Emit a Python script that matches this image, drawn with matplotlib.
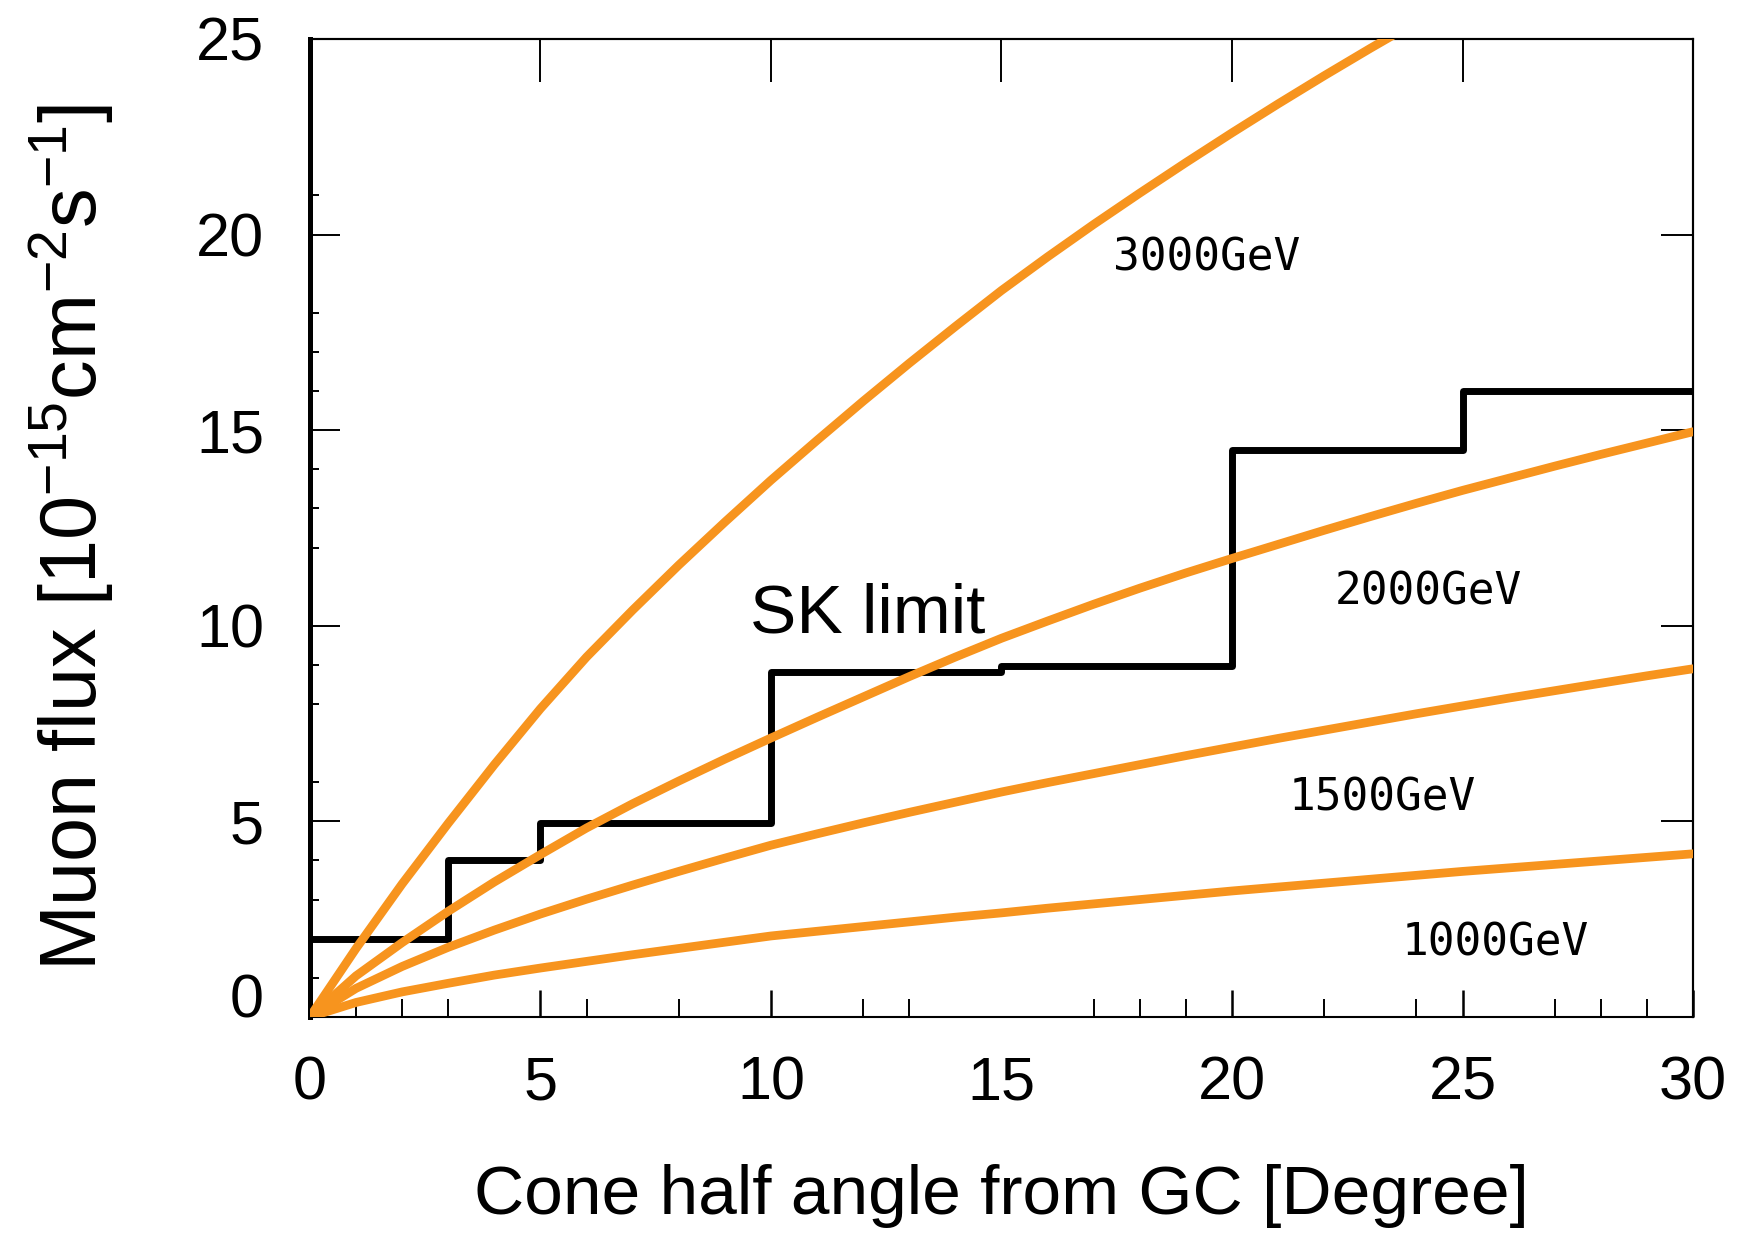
import numpy as np
import matplotlib
matplotlib.use("Agg")
import matplotlib.pyplot as plt
import matplotlib.ticker as ticker
import matplotlib.transforms as mtransforms

plt.rcParams['font.family'] = ['Liberation Sans', 'DejaVu Sans']
plt.rcParams['mathtext.fontset'] = 'custom'
plt.rcParams['mathtext.rm'] = 'Liberation Sans'
plt.rcParams['mathtext.it'] = 'Liberation Sans:italic'

# SK upper limit, step histogram
sk_edges = [0, 3, 5, 10, 15, 20, 25, 30]
sk_limit = [2.0, 4.0, 4.97, 8.82, 8.97, 14.5, 16.0]

# expected muon flux vs cone half angle
ang_3000 = [0, 1, 2, 3, 4, 5, 6, 7, 8, 9, 10, 11, 12, 13, 14, 15, 16, 17, 18, 19, 20, 21, 22, 23, 23.5]
flux_3000 = [0, 1.75, 3.4, 4.95, 6.45, 7.88, 9.2, 10.4, 11.55, 12.65, 13.72, 14.74, 15.74, 16.71,
             17.65, 18.57, 19.43, 20.26, 21.06, 21.84, 22.6, 23.34, 24.06, 24.76, 25.1]

angles = list(range(0, 31))
flux_2000 = [0, 1.05, 1.9, 2.7, 3.45, 4.15, 4.83, 5.45, 6.03, 6.59, 7.13, 7.66, 8.18, 8.7, 9.2, 9.68,
             10.12, 10.55, 10.96, 11.35, 11.72, 12.08, 12.44, 12.79, 13.13, 13.46, 13.77, 14.08,
             14.38, 14.67, 14.96]
flux_1500 = [0, 0.73, 1.29, 1.78, 2.22, 2.63, 3.01, 3.37, 3.72, 4.06, 4.39, 4.68, 4.96, 5.23, 5.49,
             5.75, 5.99, 6.22, 6.45, 6.68, 6.9, 7.12, 7.33, 7.54, 7.75, 7.95, 8.15, 8.34, 8.53,
             8.72, 8.9]
flux_1000 = [0, 0.37, 0.64, 0.86, 1.07, 1.25, 1.42, 1.59, 1.75, 1.91, 2.07, 2.19, 2.31, 2.43, 2.55,
             2.66, 2.78, 2.89, 3.0, 3.11, 3.22, 3.32, 3.42, 3.52, 3.62, 3.72, 3.81, 3.9, 3.99,
             4.08, 4.17]

# ticks that show up in the picture
x_major = [0, 5, 10, 15, 20, 25, 30]
x_minor = [1, 2, 3, 6, 8, 12, 13, 17, 18, 19, 22, 24, 27, 28, 29]
y_major = [0, 5, 10, 15, 20, 25]
y_minor = [1, 2, 3, 4, 6, 8, 9, 12, 13, 14, 16, 17, 18, 21]

orange = '#F7941E'

fig = plt.figure(figsize=(17.47, 12.37), dpi=100)
ax = fig.add_axes([0.1774, 0.1779, 0.7917, 0.7906])

ax.step(sk_edges, sk_limit + [sk_limit[-1]], where='post', color='black', lw=5.0, zorder=2)

for xs, ys in [(ang_3000, flux_3000), (angles, flux_2000),
               (angles, flux_1500), (angles, flux_1000)]:
    ax.plot(xs, ys, color=orange, lw=6.3, solid_capstyle='round', solid_joinstyle='round', zorder=3)

ax.text(12.1, 10.3, 'SK limit', fontsize=50, ha='center', va='center')
ax.text(19.45, 19.4, '3000GeV', fontsize=32, family='DejaVu Sans Mono', ha='center', va='center')
ax.text(24.25, 10.85, '2000GeV', fontsize=32, family='DejaVu Sans Mono', ha='center', va='center')
ax.text(23.25, 5.6, '1500GeV', fontsize=32, family='DejaVu Sans Mono', ha='center', va='center')
ax.text(25.7, 1.9, '1000GeV', fontsize=32, family='DejaVu Sans Mono', ha='center', va='center')

ax.set_xlim(0, 30)
ax.set_ylim(0, 25)

ax.xaxis.set_major_locator(ticker.FixedLocator(x_major))
ax.xaxis.set_minor_locator(ticker.FixedLocator(x_minor))
ax.yaxis.set_major_locator(ticker.FixedLocator(y_major))
ax.yaxis.set_minor_locator(ticker.FixedLocator(y_minor))

ax.tick_params(axis='x', which='major', direction='in', length=19.5, width=1.8, labelsize=44, pad=28)
ax.tick_params(axis='x', which='minor', direction='in', length=13, width=1.4)
ax.tick_params(axis='y', which='major', direction='in', length=21.5, width=1.4, labelsize=44, pad=33)
ax.tick_params(axis='y', which='minor', direction='in', length=6.5, width=1.4)

for side in ['top', 'right', 'bottom']:
    ax.spines[side].set_linewidth(1.5)
ax.spines['left'].set_linewidth(3.6)

# top and right: only the long major ticks
top = ax.secondary_xaxis('top')
top.xaxis.set_major_locator(ticker.FixedLocator([5, 10, 15, 20, 25]))
top.tick_params(direction='in', length=31, width=1.4, labeltop=False)
top.spines['top'].set_linewidth(1.5)
right = ax.secondary_yaxis('right')
right.yaxis.set_major_locator(ticker.FixedLocator([5, 10, 15, 20]))
right.tick_params(direction='in', length=23, width=1.4, labelright=False)
right.spines['right'].set_linewidth(1.5)

# the 15 tick mark is not drawn on the bottom axis
ax.xaxis.get_major_ticks()[3].tick1line.set_visible(False)

# y "0" label sits a bit above the axis
lab0 = ax.yaxis.get_major_ticks()[0].label1
lab0.set_transform(lab0.get_transform() + mtransforms.ScaledTranslation(0, 0.21, fig.dpi_scale_trans))

ax.set_xlabel('Cone half angle from GC [Degree]', fontsize=50)
ax.set_ylabel(r'Muon flux [10$^{\mathregular{-15}}$cm$^{\mathregular{-2}}$s$^{\mathregular{-1}}$]', fontsize=57)
ax.xaxis.set_label_coords(0.5, -0.15)
ax.yaxis.set_label_coords(-0.14, 0.49)

fig.savefig('out.png', dpi=100)
